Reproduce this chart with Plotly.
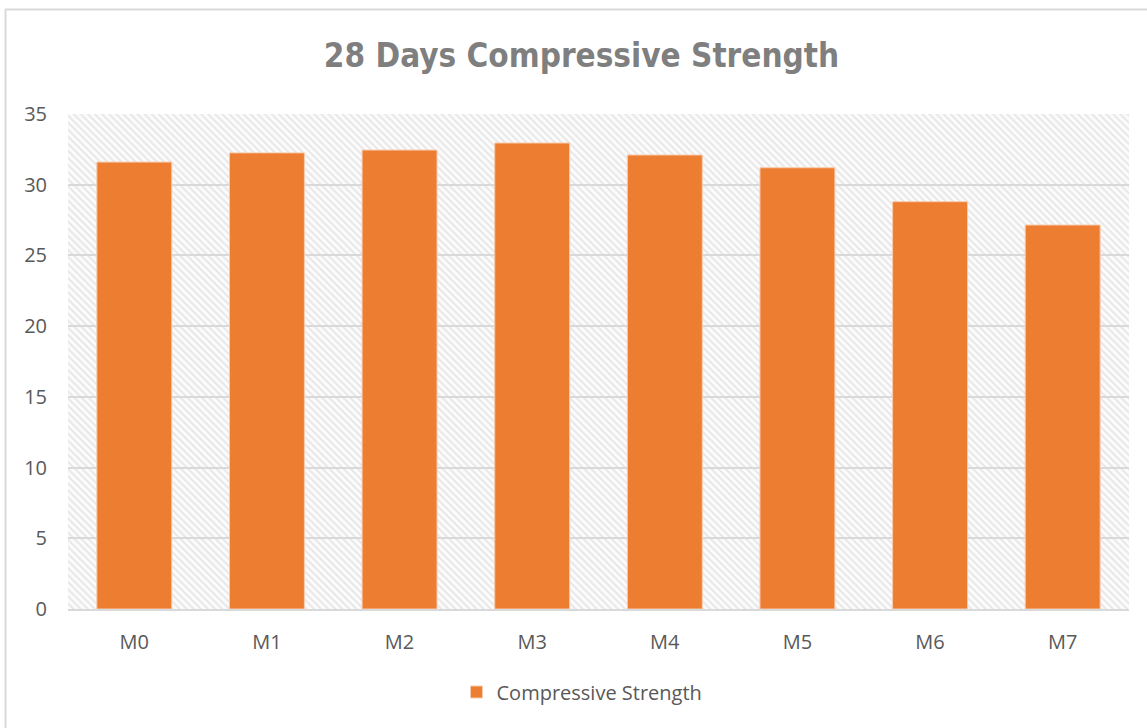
import base64
import plotly.graph_objects as go

categories = ["M0", "M1", "M2", "M3", "M4", "M5", "M6", "M7"]
strength = [31.6, 32.25, 32.45, 32.95, 32.1, 31.2, 28.8, 27.15]
series_name = "Compressive Strength"
title_text = "28 Days Compressive Strength"
y_ticks = [0, 5, 10, 15, 20, 25, 30, 35]

W, H = 1147, 728
L, R, T, B = 68, 18, 114, 119
PW, PH = W - L - R, H - T - B

# hatch pattern background as an SVG image
svg = f'''<svg xmlns="http://www.w3.org/2000/svg" width="{PW}" height="{PH}">
<defs><pattern id="p" width="5" height="5" patternUnits="userSpaceOnUse" patternTransform="rotate(45)">
<rect width="5" height="5" fill="#fbfbfb"/><rect width="5" height="2" fill="#e8e8e8"/></pattern></defs>
<rect width="{PW}" height="{PH}" fill="url(#p)"/></svg>'''
src = "data:image/svg+xml;base64," + base64.b64encode(svg.encode()).decode()

TICK_FONT = "Open Sans, Noto Sans, sans-serif"

fig = go.Figure()
fig.add_trace(go.Bar(
    x=list(range(len(categories))), y=strength, name=series_name,
    width=0.565,
    marker=dict(color="#ED7D31", line=dict(color="#F8CBAD", width=1)),
    showlegend=True,
))

def px2paper_x(px):
    return (px - L) / PW

def px2paper_y(py):
    return (H - B - py) / PH

fig.update_layout(
    width=W, height=H,
    margin=dict(l=L, r=R, t=T, b=B),
    paper_bgcolor="white", plot_bgcolor="white",
    title=dict(text=f"<b>{title_text}</b>", x=581.5 / W, xref="container", xanchor="center",
               y=1 - 55 / H, yref="container", yanchor="middle",
               font=dict(family="DejaVu Sans Condensed, Liberation Sans Narrow, sans-serif", size=33, color="#7F7F7F")),
    xaxis=dict(
        range=[-0.5, len(categories) - 0.5],
        tickvals=list(range(len(categories))), ticktext=categories,
        showgrid=False, zeroline=False, showline=True, linecolor="#D9D9D9", linewidth=2,
        ticks="", ticklabelstandoff=14,
        tickfont=dict(family=TICK_FONT, size=20, color="#595959"),
    ),
    yaxis=dict(
        range=[0, 35], tickvals=y_ticks, showgrid=True, gridcolor="#D9D9D9", gridwidth=1.5,
        zeroline=False, showline=False, ticks="", ticklabelstandoff=20,
        tickfont=dict(family=TICK_FONT, size=20, color="#595959"),
    ),
    legend=dict(orientation="h", x=px2paper_x(582), xanchor="center", y=px2paper_y(692), yanchor="middle",
                font=dict(family=TICK_FONT, size=20, color="#595959"),
                itemwidth=30),
    images=[dict(source=src, xref="paper", yref="paper", x=0, y=1, sizex=1, sizey=1,
                 xanchor="left", yanchor="top", sizing="stretch", layer="below")],
    shapes=[
        dict(type="line", xref="paper", yref="paper", x0=px2paper_x(5), x1=px2paper_x(1150),
             y0=px2paper_y(9.5), y1=px2paper_y(9.5), line=dict(color="#D9D9D9", width=2)),
        dict(type="line", xref="paper", yref="paper", x0=px2paper_x(5.5), x1=px2paper_x(5.5),
             y0=px2paper_y(9.5), y1=px2paper_y(730), line=dict(color="#D9D9D9", width=2)),
    ],
)

fig.write_html("out.html", config={"displayModeBar": False},
               post_script="document.body.style.margin='0';")
